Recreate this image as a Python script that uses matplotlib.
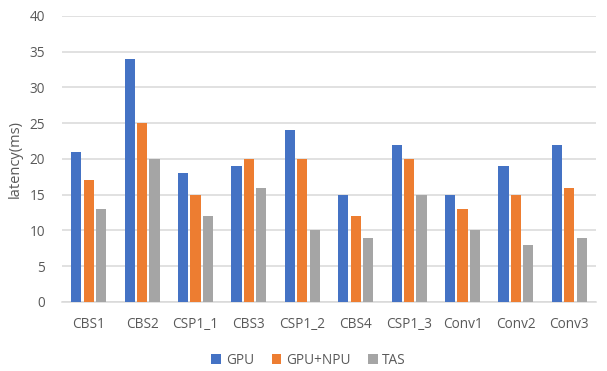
import matplotlib
matplotlib.use("Agg")
import matplotlib.pyplot as plt
import numpy as np

categories = ["CBS1", "CBS2", "CSP1_1", "CBS3", "CSP1_2", "CBS4", "CSP1_3", "Conv1", "Conv2", "Conv3"]
gpu = [21, 34, 18, 19, 24, 15, 22, 15, 19, 22]
gpu_npu = [17, 25, 15, 20, 20, 12, 20, 13, 15, 16]
tas = [13, 20, 12, 16, 10, 9, 15, 10, 8, 9]
series_names = ["GPU", "GPU+NPU", "TAS"]
colors = ["#4472C4", "#ED7D31", "#A5A5A5"]

plt.rcParams["font.family"] = ["Open Sans", "DejaVu Sans"]
text_color = "#595959"

fig = plt.figure(figsize=(6.07, 3.71), dpi=100)
ax = fig.add_axes([0.102, 0.186, 0.880, 0.771])

x = np.arange(len(categories))
width = 0.19
step = 0.232
for i, (vals, name, col) in enumerate(zip([gpu, gpu_npu, tas], series_names, colors)):
    ax.bar(x + (i - 1) * step, vals, width=width, color=col, label=name, zorder=3)

ax.set_xlim(-0.5, len(categories) - 0.5)
ax.set_ylim(0, 40)
ax.set_yticks(range(0, 41, 5))
ax.set_xticks(x)
ax.set_xticklabels(categories)
ax.grid(axis="y", color="#D9D9D9", linewidth=1.1, zorder=0)
for s in ["top", "right", "left"]:
    ax.spines[s].set_visible(False)
ax.spines["bottom"].set_color("#D9D9D9")
ax.spines["bottom"].set_linewidth(1.1)
ax.tick_params(axis="both", length=0, colors=text_color, labelsize=9.8)
ax.tick_params(axis="y", pad=12)
ax.tick_params(axis="x", pad=11)
ax.set_ylabel("latency(ms)", color=text_color, fontsize=10.5, labelpad=5)

ax.legend(loc="upper center", bbox_to_anchor=(0.462, -0.135), ncol=3, frameon=False,
          fontsize=9.8, handlelength=0.7, handleheight=0.7, handletextpad=0.35,
          columnspacing=1.3, labelcolor=text_color)

fig.savefig("out.png", dpi=100, facecolor="white")
